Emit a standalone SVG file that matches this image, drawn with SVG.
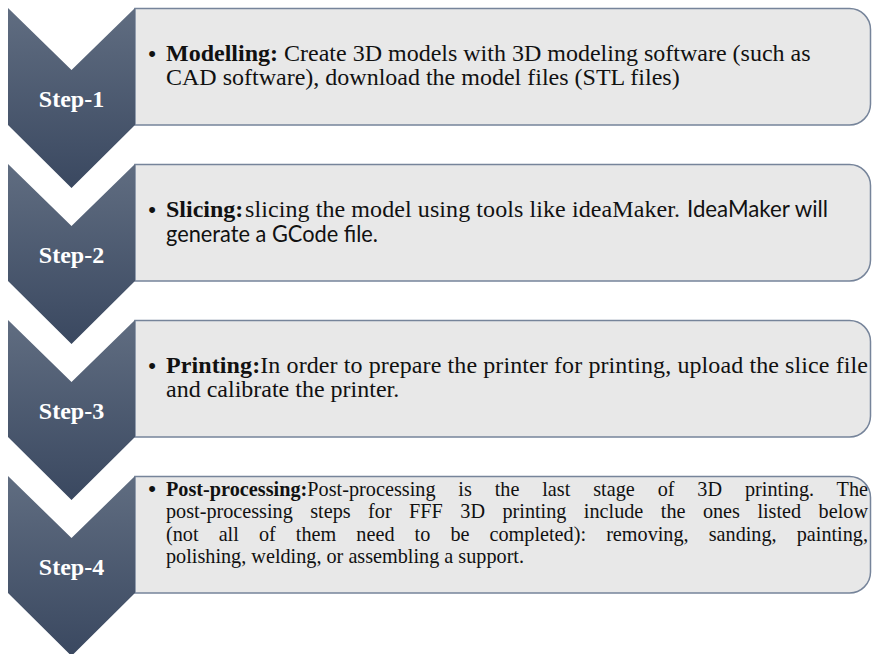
<svg xmlns="http://www.w3.org/2000/svg" width="873" height="654" viewBox="0 0 873 654">
<style>
.box{fill:#e8e8e8;stroke:#76849a;stroke-width:1.5}
.chev{fill:url(#chevGrad)}
.lbl{font-family:"Liberation Serif","Times New Roman",serif;font-weight:bold;font-size:24px;fill:#ffffff;text-anchor:middle}
.t{font-family:"Liberation Serif","Times New Roman",serif;font-size:24px;fill:#111111}
.t4{font-family:"Liberation Serif","Times New Roman",serif;font-size:21.5px;fill:#111111}
.b{font-weight:bold}
.s{font-family:Lato,"Liberation Sans",sans-serif;font-size:23px;fill:#111111}
.bul{font-family:"Liberation Sans",Arial,sans-serif;font-size:22px;fill:#111111;text-anchor:middle}
</style>
<defs>
<linearGradient id="chevGrad" x1="0" y1="0" x2="0" y2="1">
<stop offset="0" stop-color="#606d81"/>
<stop offset="1" stop-color="#3a4860"/>
</linearGradient>
<path id="chevShape" d="M8,8 L71.5,70 L135,8 L135,125 L71.5,188 L8,125 Z"/>
<path id="boxShape" d="M135,8.5 H849.5 A21,21 0 0 1 870.5,29.5 V104 A21,21 0 0 1 849.5,125 H135 Z"/>
</defs>
<rect width="873" height="654" fill="#ffffff"/>
<g id="connectors"></g>

<g id="step1">
<use href="#boxShape" class="box"/>
<use href="#chevShape" class="chev"/>
<text class="lbl" x="71.5" y="107">Step-1</text>
<text class="bul" x="152" y="61">•</text>
<text class="t" x="166" y="61"><tspan class="b">Modelling:</tspan> Create 3D models with 3D modeling software (such as</text>
<text class="t" x="166" y="85">CAD software), download the model files (STL files)</text>
</g>

<g id="step2" transform="translate(0,156)">
<use href="#boxShape" class="box"/>
<use href="#chevShape" class="chev"/>
<text class="lbl" x="71.5" y="107">Step-2</text>
<text class="bul" x="152" y="61">•</text>
<text class="t b" x="166" y="61">Slicing:</text>
<text class="t" x="245" y="61" textLength="435" lengthAdjust="spacing">slicing the model using tools like ideaMaker.</text>
<text class="s" x="687" y="61" textLength="141" lengthAdjust="spacingAndGlyphs">IdeaMaker will</text>
<text class="s" x="166" y="86" textLength="212" lengthAdjust="spacingAndGlyphs">generate a GCode file.</text>
</g>

<g id="step3" transform="translate(0,312)">
<use href="#boxShape" class="box"/>
<use href="#chevShape" class="chev"/>
<text class="lbl" x="71.5" y="107">Step-3</text>
<text class="bul" x="152" y="61">•</text>
<text class="t" x="166" y="61" textLength="702" lengthAdjust="spacing"><tspan class="b">Printing:</tspan>In order to prepare the printer for printing, upload the slice file</text>
<text class="t" x="166" y="85">and calibrate the printer.</text>
</g>

<g id="step4" transform="translate(0,468)">
<use href="#boxShape" class="box"/>
<use href="#chevShape" class="chev"/>
<text class="lbl" x="71.5" y="107">Step-4</text>
<text class="bul" x="152" y="28">•</text>
<g transform="translate(166,0) scale(0.94,1)">
<text class="t4" x="0" y="28" word-spacing="18.9" textLength="746.8" lengthAdjust="spacing"><tspan class="b">Post-processing:</tspan>Post-processing is the last stage of 3D printing. The</text>
<text class="t4" x="0" y="50.5" word-spacing="13.2" textLength="746.8" lengthAdjust="spacing">post-processing steps for FFF 3D printing include the ones listed below</text>
<text class="t4" x="0" y="73" word-spacing="16" textLength="746.8" lengthAdjust="spacing">(not all of them need to be completed): removing, sanding, painting,</text>
<text class="t4" x="0" y="95.5">polishing, welding, or assembling a support.</text>
</g>
</g>
</svg>
